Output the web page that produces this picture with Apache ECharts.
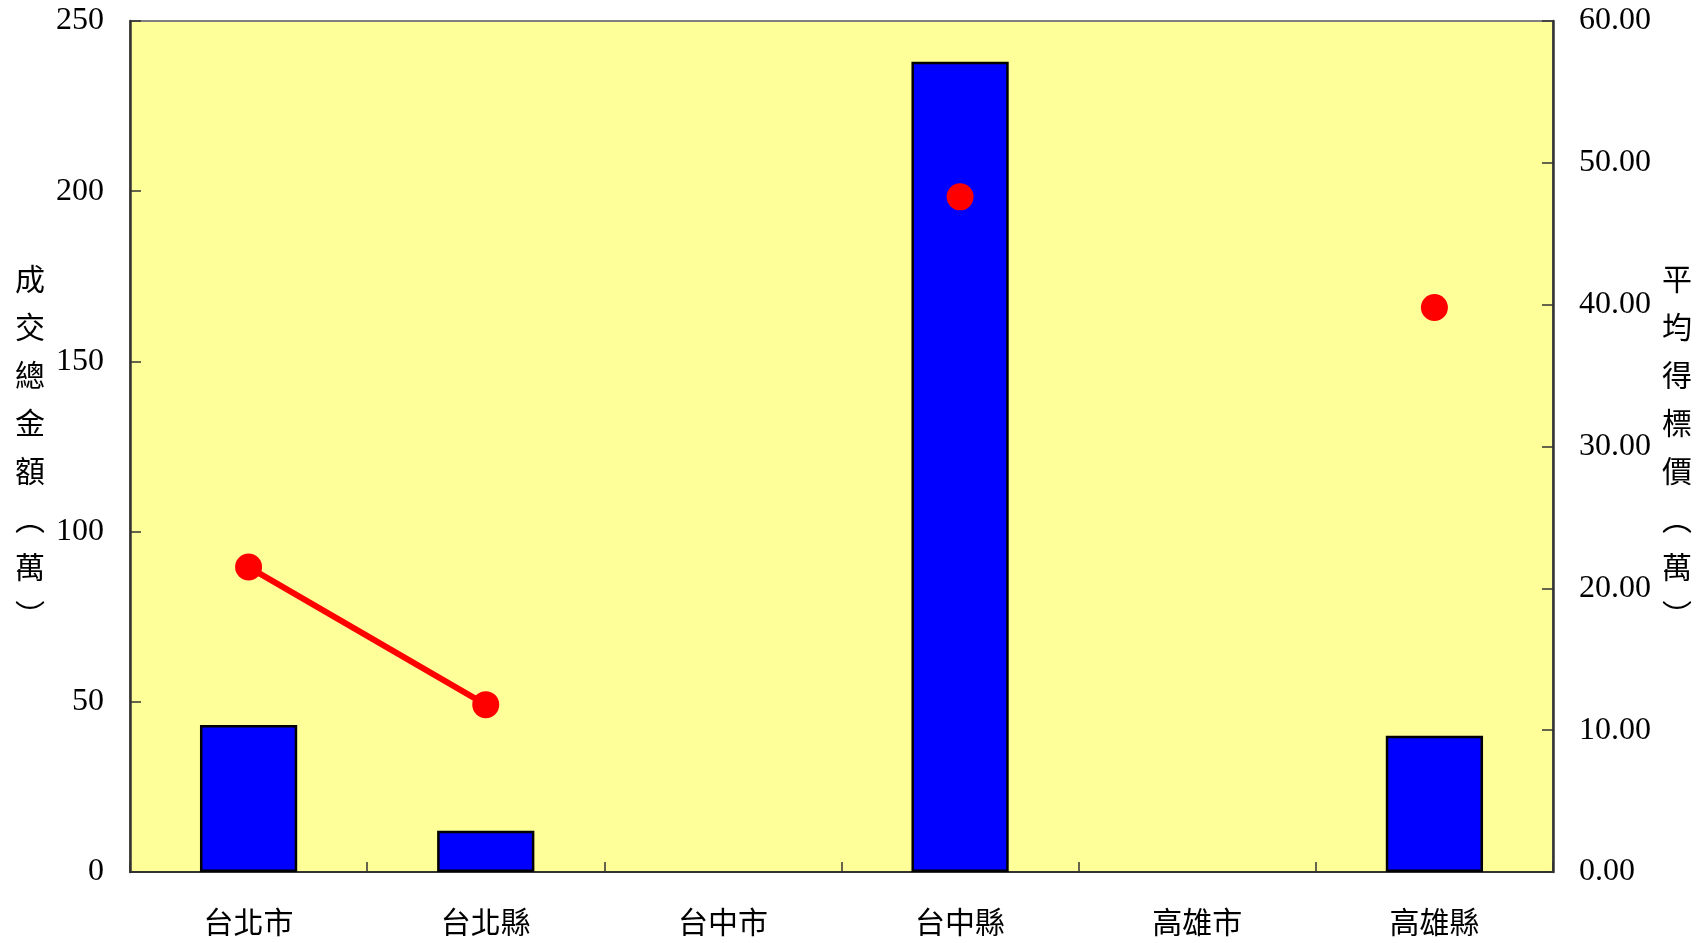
<!DOCTYPE html>
<html>
<head>
<meta charset="utf-8">
<script src="https://cdn.jsdelivr.net/npm/echarts@6/dist/echarts.min.js"></script>
<style>
html,body{margin:0;padding:0;background:#fff;}
#chart{width:1707px;height:943px;}
</style>
</head>
<body>
<div id="chart"></div>
<script>
const categories = ['台北市', '台北縣', '台中市', '台中縣', '高雄市', '高雄縣'];
const totalAmount = [43.2, 12.1, null, 238, null, 40];
const avgPrice = [21.5, 11.8, null, 47.6, null, 39.8];
const leftAxisName = '成交總金額︵萬︶';
const rightAxisName = '平均得標價︵萬︶';

const chart = echarts.init(document.getElementById('chart'));
const numFont = 'Liberation Serif, Times New Roman, serif';
const cjkFont = 'Noto Sans CJK TC, sans-serif';
const vertical = s => s.split('').join('\n');

chart.setOption({
  animation: false,
  backgroundColor: '#ffffff',
  grid: {
    left: 130, right: 154, top: 21, bottom: 71,
    show: true, backgroundColor: '#ffff99',
    borderColor: '#808080', borderWidth: 2,
    containLabel: false, outerBoundsMode: 'none'
  },
  xAxis: {
    type: 'category',
    data: categories,
    boundaryGap: true,
    axisLine: { show: true, lineStyle: { color: '#333', width: 2 } },
    axisTick: { show: true, inside: true, length: 10, alignWithLabel: false, lineStyle: { color: '#333', width: 1.5 } },
    axisLabel: { margin: 35, fontFamily: cjkFont, fontSize: 30, color: '#000', interval: 0 },
    splitLine: { show: false }
  },
  yAxis: [
    {
      type: 'value', min: 0, max: 250, interval: 50,
      position: 'left',
      name: vertical(leftAxisName),
      nameLocation: 'middle', nameRotate: 0, nameGap: 85, nameMoveOverlap: false,
      nameTextStyle: { fontFamily: cjkFont, fontSize: 30, lineHeight: 48, color: '#000' },
      axisLine: { show: true, lineStyle: { color: '#333', width: 2.5 } },
      axisTick: { show: true, inside: true, length: 11, lineStyle: { color: '#333', width: 1.5 } },
      axisLabel: { margin: 26, fontFamily: numFont, fontSize: 32, color: '#000' },
      splitLine: { show: false }
    },
    {
      type: 'value', min: 0, max: 60, interval: 10,
      position: 'right',
      name: vertical(rightAxisName),
      nameLocation: 'middle', nameRotate: 0, nameGap: 109, nameMoveOverlap: false,
      nameTextStyle: { fontFamily: cjkFont, fontSize: 30, lineHeight: 48, color: '#000' },
      axisLine: { show: true, lineStyle: { color: '#333', width: 2.5 } },
      axisTick: { show: true, inside: true, length: 11, lineStyle: { color: '#333', width: 1.5 } },
      axisLabel: { margin: 26, fontFamily: numFont, fontSize: 32, color: '#000', formatter: v => v.toFixed(2) },
      splitLine: { show: false }
    }
  ],
  series: [
    {
      type: 'bar', yAxisIndex: 0, data: totalAmount,
      barWidth: '41%',
      itemStyle: { color: '#0000ff', borderColor: '#000', borderWidth: 2.5 },
      z: 2
    },
    {
      type: 'line', yAxisIndex: 1, data: avgPrice,
      connectNulls: false, showSymbol: true, showAllSymbol: true,
      symbol: 'circle', symbolSize: 27,
      lineStyle: { color: '#ff0000', width: 6 },
      itemStyle: { color: '#ff0000', borderWidth: 0 },
      z: 5
    }
  ]
});
</script>
</body>
</html>
